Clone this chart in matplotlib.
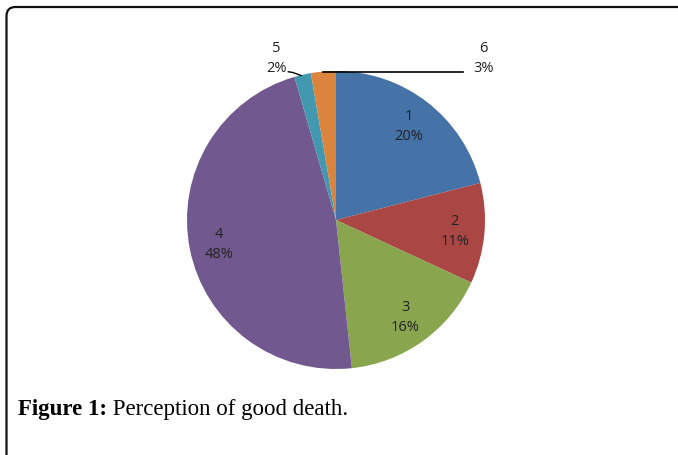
import matplotlib
matplotlib.use("Agg")
import matplotlib.pyplot as plt
import numpy as np
from matplotlib.path import Path
from matplotlib.patches import PathPatch

categories = ["1", "2", "3", "4", "5", "6"]
values = [21.0, 10.9, 16.4, 47.2, 1.8, 2.7]
pct_labels = ["20%", "11%", "16%", "48%", "2%", "3%"]
colors = ["#4572A7", "#AA4643", "#89A54E", "#71588F", "#4198AF", "#DB843D"]

W, H = 678, 456
fig = plt.figure(figsize=(W / 100, H / 100), dpi=100)
R = 149.0
cx, cy = 336.0, 221.0
ax = fig.add_axes([0, 0, 1, 1])

wedges, _ = ax.pie(values, colors=colors, startangle=90, counterclock=False,
                   radius=1.0, wedgeprops=dict(linewidth=0))
ax.set_xlim(-cx / R, (W - cx) / R)
ax.set_ylim(-(H - cy) / R, cy / R)
ax.axis("off")

lab_font = dict(family="Open Sans", fontsize=10.5, color="#222222",
                ha="center", va="center", linespacing=1.45)
for w, c, p, v in zip(wedges, categories, pct_labels, values):
    mid = np.deg2rad((w.theta1 + w.theta2) / 2)
    if v >= 5:
        d = 0.8
        ax.text(d * np.cos(mid), d * np.sin(mid), f"{c}\n{p}", **lab_font)

# outside labels for small slices
w5, w6 = wedges[4], wedges[5]
ax.text(-0.40, 1.09, f"{categories[4]}\n{pct_labels[4]}", **lab_font)
ax.text(0.99, 1.09, f"{categories[5]}\n{pct_labels[5]}", **lab_font)
# leader lines
m6 = np.deg2rad((w6.theta1 + w6.theta2) / 2)
ax.plot([np.cos(m6) * 0.995, 0.85], [0.99, 0.99], color="black", lw=1.2)
m5 = np.deg2rad((w5.theta1 + w5.theta2) / 2)
ax.plot([-0.32, -0.29, np.cos(m5) * 1.0 - 0.01], [0.995, 0.99, np.sin(m5) * 0.995],
        color="black", lw=1.0)

# frame with rounded top-left corner (figure pixel coords)
r = 9
verts = [(6.5, 0), (6.5, H - 8 - r), (6.5, H - 8), (6.5 + r, H - 8), (W, H - 8)]
codes = [Path.MOVETO, Path.LINETO, Path.CURVE3, Path.CURVE3, Path.LINETO]
frame = PathPatch(Path([(x / W, y / H) for x, y in verts], codes),
                  transform=fig.transFigure, fill=False, lw=1.6, edgecolor="#111111")
fig.patches.append(frame)

# caption
base_y = 1 - 415 / H
t1 = fig.text(18 / W, base_y, "Figure 1:", family="Liberation Serif", fontsize=16.5,
              fontweight="bold", va="baseline", ha="left")
fig.canvas.draw()
bb = t1.get_window_extent(renderer=fig.canvas.get_renderer())
fig.text(bb.x1 / W, base_y, " Perception of good death.", family="Liberation Serif",
         fontsize=16.5, va="baseline", ha="left")

fig.savefig("out.png", dpi=100)
